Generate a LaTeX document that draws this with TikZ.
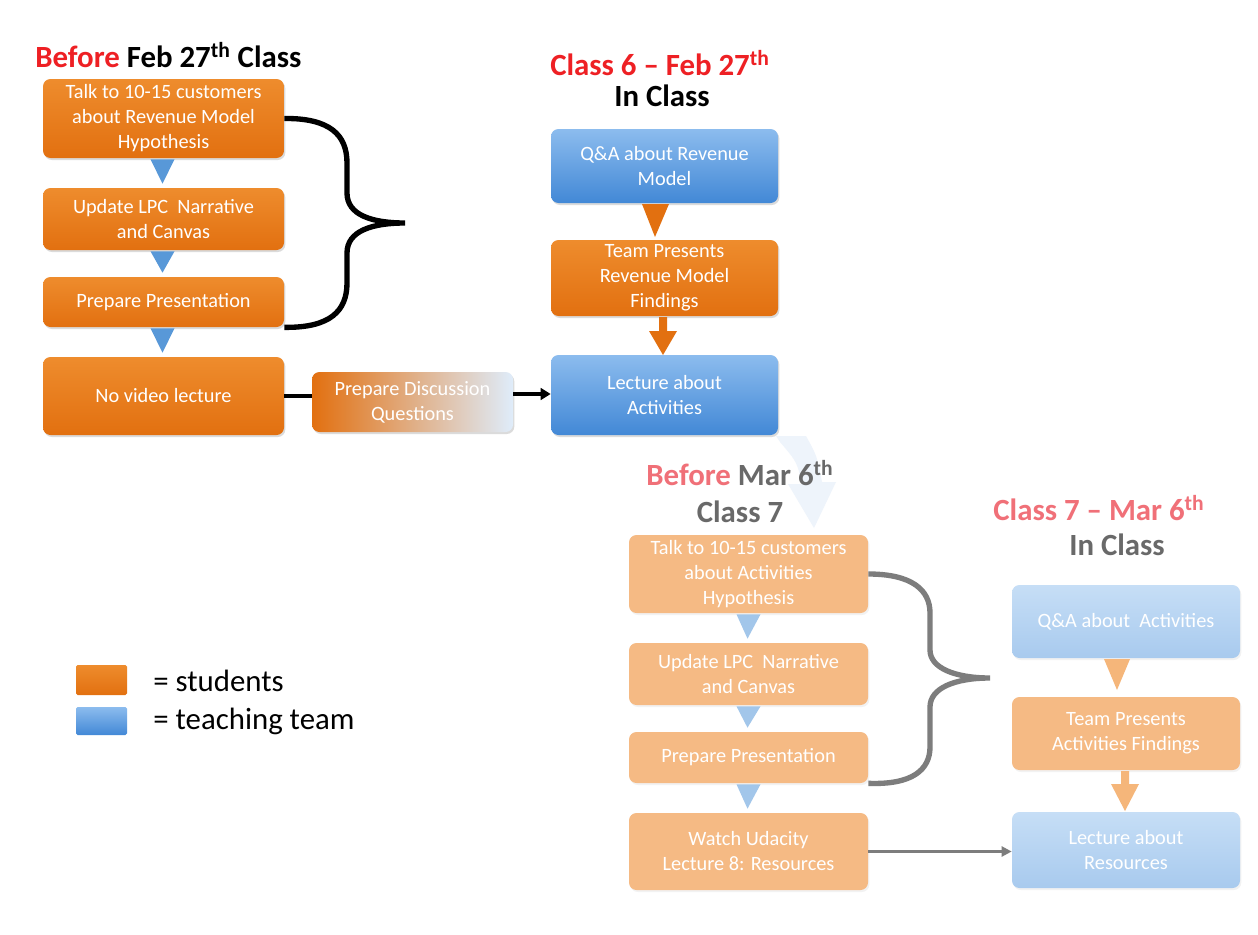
\documentclass[tikz,border=0pt]{standalone}
\usepackage{fontspec}
\setmainfont{Carlito}
\usetikzlibrary{calc,shadows,arrows.meta}
\definecolor{oraT}{RGB}{238,140,45}
\definecolor{oraB}{RGB}{226,112,16}
\definecolor{bluT}{RGB}{140,188,238}
\definecolor{bluB}{RGB}{66,136,214}
\definecolor{triblue}{RGB}{88,152,216}
\definecolor{fora}{RGB}{245,186,132}
\definecolor{fbluT}{RGB}{198,222,246}
\definecolor{fbluB}{RGB}{168,202,238}
\definecolor{ftriblue}{RGB}{162,198,234}
\definecolor{ftriora}{RGB}{245,182,122}
\definecolor{tred}{RGB}{238,32,36}
\definecolor{tpink}{RGB}{240,112,120}
\definecolor{tgrey}{RGB}{105,105,105}
\definecolor{bracegrey}{RGB}{125,125,125}
\definecolor{faint}{RGB}{238,244,251}
\tikzset{
  wh/.style 2 args={minimum width=#1*0.6pt, minimum height=#2*0.6pt},
  box/.style={rounded corners=4.5pt, inner sep=0pt, align=center, text=white,
    font=\fontsize{12.2}{15}\selectfont},
  shad/.style={drop shadow={opacity=0.28, shadow xshift=0.8pt, shadow yshift=-1.2pt}},
  fshad/.style={drop shadow={opacity=0.10, shadow xshift=0.8pt, shadow yshift=-1.2pt}},
  obox/.style={box, shad, top color=oraT, bottom color=oraB},
  bbox/.style={box, shad, top color=bluT, bottom color=bluB},
  dbox/.style={box, shad, left color=oraB, middle color=bluB!80!bluT, right color=white!72!bluT},
  fobox/.style={box, fshad, fill=fora},
  fbbox/.style={box, fshad, top color=fbluT, bottom color=fbluB},
  ttl/.style={inner sep=0pt, font=\fontsize{18.5}{22}\bfseries\selectfont},
  legtxt/.style={inner sep=0pt, anchor=west, font=\fontsize{18.5}{22}\selectfont},
  bracek/.style={line width=3.2pt, black},
  braceg/.style={line width=3.2pt, bracegrey},
}
\begin{document}
\begin{tikzpicture}[x=0.6pt,y=-0.6pt]
\useasboundingbox (0,0) rectangle (1258,935);
\fill[white] (0,0) rectangle (1258,935);

% faint background arrow
\fill[faint] (776,436) -- (806,436) .. controls (817,456) .. (822,482) -- (836,482) -- (814,528) -- (788,484) -- (802,484) .. controls (797,462) .. (780,442) -- cycle;

% titles
\node[ttl, anchor=west, text=tred] (t1) at (35,55) {Before \textcolor{black}{Feb 27\textsuperscript{th} Class}};
\node[ttl, text=tred] (t2) at (660,63) {Class 6 -- Feb 27\textsuperscript{th}};
\node[ttl] (t3) at (662,96) {In Class};
\node[ttl, text=tpink] (t4) at (740,473) {Before \textcolor{tgrey}{Mar 6\textsuperscript{th}}};
\node[ttl, text=tgrey] (t5) at (740,512) {Class 7};
\node[ttl, text=tpink] (t6) at (1099,508) {Class 7 -- Mar 6\textsuperscript{th}};
\node[ttl, text=tgrey] (t7) at (1117,545) {In Class};

% left column
\node[obox, wh={241}{79}] (b1) at (163.5,118.5) {Talk to 10-15 customers\\about Revenue Model\\Hypothesis};
\node[obox, wh={241}{62}] (b2) at (163.5,219) {Update LPC\ \ Narrative\\and Canvas};
\node[obox, wh={241}{50}] (b3) at (163.5,302) {Prepare Presentation};
\node[obox, wh={241}{78}] (b4) at (163.5,396) {No video lecture};
\node[dbox, wh={201}{60}] (disc) at (412.5,402) {Prepare Discussion\\Questions};

\foreach \a/\b in {b1/b2,b2/b3,b3/b4}{
  \fill[triblue] ($(\a.south)+(-13,1)$) -- ($(\a.south)+(11,1)$) -- ($(\b.north)+(-1,-4)$) -- cycle;
}

% middle column
\node[bbox, wh={227}{74}] (m1) at (664.5,166) {Q\&A about Revenue\\Model};
\node[obox, wh={227}{76}] (m2) at (664.5,278) {Team Presents\\Revenue Model\\Findings};
\node[bbox, wh={227}{80}] (m3) at (664.5,395) {Lecture about\\Activities};
\fill[oraB] (642,204) -- (669,204) -- (655,237) -- cycle;
\fill[oraB] (659,317) -- (667,317) -- (667,331) -- (677,331) -- (663,355) -- (649,331) -- (659,331) -- cycle;

% connectors
\draw[line width=2.4pt] (b4.east) -- (b4.east -| disc.west);
\draw[line width=2.4pt, -{Triangle[length=6pt,width=7pt]}] ($(disc.east)+(0,-8)$) -- ($(disc.east -| m3.west)+(0,-8)$);

% brace black
\coordinate (tipA) at (405,223);
\draw[bracek] (b1.east) .. controls (330,118) and (347,135) .. (347,163) -- (347,193) .. controls (347,215) and (372,223) .. (tipA) .. controls (372,223) and (347,231) .. (347,253) -- (347,283) .. controls (347,311) and (330,328) .. (b3.south east);

% second section left column
\node[fobox, wh={239}{78}] (s1) at (748.5,574) {Talk to 10-15 customers\\about Activities\\Hypothesis};
\node[fobox, wh={239}{62}] (s2) at (748.5,674) {Update LPC\ \ Narrative\\and Canvas};
\node[fobox, wh={239}{51}] (s3) at (748.5,757.5) {Prepare Presentation};
\node[fobox, wh={239}{77}] (s4) at (748.5,851.5) {Watch Udacity\\Lecture 8: Resources};
\foreach \a/\b in {s1/s2,s2/s3,s3/s4}{
  \fill[ftriblue] ($(\a.south)+(-12,1)$) -- ($(\a.south)+(12,1)$) -- ($(\b.north)+(-1,-4)$) -- cycle;
}

% right column
\node[fbbox, wh={228}{73}] (r1) at (1126,621.5) {Q\&A about\ \ Activities};
\node[fobox, wh={228}{73}] (r2) at (1126,733.5) {Team Presents\\Activities Findings};
\node[fbbox, wh={228}{76}] (r3) at (1126,850) {Lecture about\\Resources};
\fill[ftriora] (1104,659) -- (1130,659) -- (1117,690) -- cycle;
\fill[ftriora] (1121,771) -- (1129,771) -- (1129,784) -- (1139,784) -- (1125,811) -- (1111,784) -- (1121,784) -- cycle;

% grey brace
\coordinate (tipB) at (990,678);
\draw[braceg] (s1.east) .. controls (912,574) and (930,590) .. (930,613) -- (930,650) .. controls (930,668) and (955,678) .. (tipB) .. controls (955,678) and (930,688) .. (930,707) -- (930,747) .. controls (930,770) and (912,785) .. (s3.south east);

% grey arrow
\draw[line width=1.4pt, bracegrey, -{Triangle[length=6pt,width=6pt]}] (s4.east) -- (s4.east -| r3.west);

% legend
\node[box, top color=oraT, bottom color=oraB, rounded corners=1pt, wh={51}{30}] (lo) at (101.5,680) {};
\node[box, top color=bluT, bottom color=bluB, rounded corners=1pt, wh={51}{28}] (lb) at (101.5,721) {};
\node[legtxt] (lot) at (153,681) {= students};
\node[legtxt] (lbt) at (153,721) {= teaching team};
\end{tikzpicture}
\end{document}
